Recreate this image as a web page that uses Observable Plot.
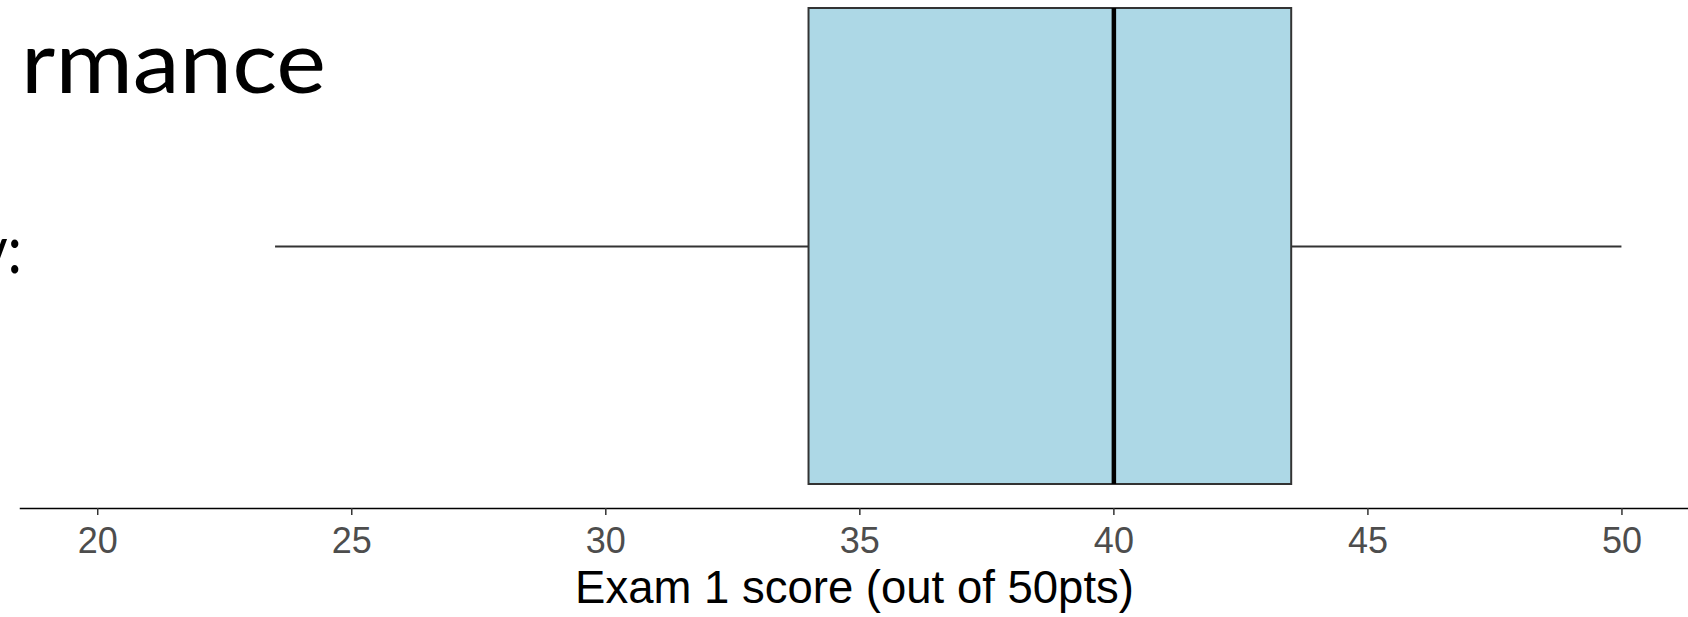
<!DOCTYPE html>
<html><head><meta charset="utf-8">
<script src="https://cdn.jsdelivr.net/npm/d3@7"></script>
<script src="https://cdn.jsdelivr.net/npm/@observablehq/plot@0.6"></script>
<style>
html,body{margin:0;padding:0;background:#fff;width:1688px;height:617px;overflow:hidden;}
#wrap{position:relative;width:1688px;height:617px;}
#chart svg{display:block;}
#overlay{position:absolute;left:0;top:0;pointer-events:none;}
</style></head>
<body><div id="wrap"><div id="chart"></div></div>
<script>
// ---- data ----
const categories = ["Exam 1"];
const minScores = [23.5];
const q1Scores = [34];
const medianScores = [40];
const q3Scores = [43.5];
const maxScores = [50];
const xTicks = [20, 25, 30, 35, 40, 45, 50];
const xDomain = [18.48, 51.31];
const xLabel = "Exam 1 score (out of 50pts)";
const slideTitle = "rmance";
const slideLine = "y:";

const data = categories.map((c, i) => ({
  exam: c, min: minScores[i], q1: q1Scores[i], median: medianScores[i], q3: q3Scores[i], max: maxScores[i]
}));

const chart = Plot.plot({
  width: 1688, height: 617,
  marginLeft: 20, marginRight: 0, marginTop: 8, marginBottom: 109,
  style: {fontFamily: "'Liberation Sans', Arial, sans-serif", background: "#fff", overflow: "visible"},
  x: {domain: xDomain},
  y: {type: "band", domain: categories, padding: 0, axis: null},
  marks: [
    Plot.ruleY(data, {y: "exam", x1: "min", x2: "q1", stroke: "#333", strokeWidth: 2, dy: -12}),
    Plot.ruleY(data, {y: "exam", x1: "q3", x2: "max", stroke: "#333", strokeWidth: 2, dy: -12}),
    Plot.barX(data, {y: "exam", x1: "q1", x2: "q3", fill: "#ADD8E6", stroke: "#333", strokeWidth: 2, insetBottom: 24}),
    Plot.tickX(data, {y: "exam", x: "median", stroke: "#000", strokeWidth: 4.5, insetBottom: 24}),
    Plot.frame({anchor: "bottom", stroke: "#000", strokeWidth: 1.5}),
    Plot.axisX({ticks: xTicks, tickSize: 7, tickPadding: 12, fontSize: 36, fill: "#4D4D4D", stroke: "#333", strokeWidth: 1.5, label: null, tickFormat: d => String(d)}),
    Plot.text([xLabel], {text: d => d, frameAnchor: "bottom", dy: 94, fontSize: 45.5, fill: "#000"})
  ]
});
document.getElementById("chart").appendChild(chart);

// slide text partially visible at the left edge
const ov = d3.select("#wrap").append("svg").attr("id", "overlay")
  .attr("width", 1688).attr("height", 617);
ov.append("text").text(slideTitle)
  .attr("transform", "translate(326,93) scale(1.07,1)")
  .attr("text-anchor", "end")
  .style("font-family", "Lato, 'Open Sans', sans-serif")
  .style("font-weight", 400)
  .style("font-size", "88px")
  .attr("fill", "#000");
ov.append("text").text(slideLine)
  .attr("transform", "translate(22,273) scale(0.85,1)")
  .attr("text-anchor", "end")
  .style("font-family", "Lato, 'Open Sans', sans-serif")
  .style("font-size", "68px")
  .attr("fill", "#000");
</script>
</body></html>
